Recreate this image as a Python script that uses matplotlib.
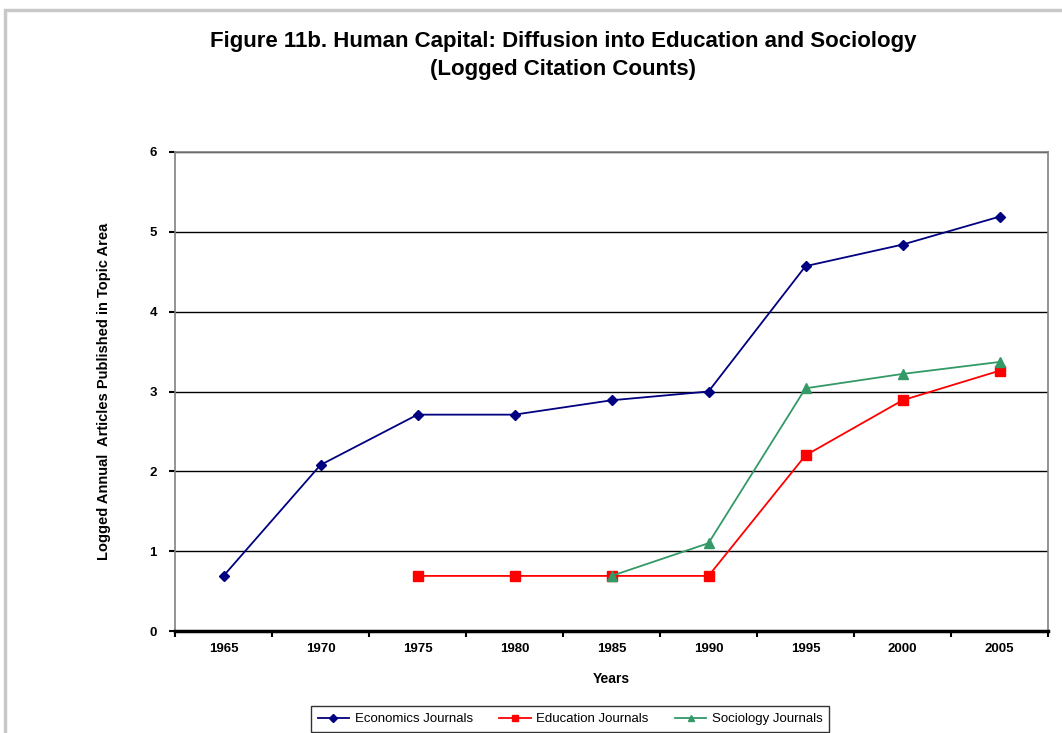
import matplotlib
matplotlib.use("Agg")
import matplotlib.pyplot as plt
from matplotlib.patches import Rectangle

plt.rcParams['font.family'] = ['Liberation Sans', 'DejaVu Sans']

years = ["1965", "1970", "1975", "1980", "1985", "1990", "1995", "2000", "2005"]
economics = [0.69, 2.08, 2.71, 2.71, 2.89, 3.00, 4.57, 4.84, 5.19]
education = [None, None, 0.69, 0.69, 0.69, 0.69, 2.20, 2.89, 3.26]
sociology = [None, None, None, None, 0.69, 1.10, 3.04, 3.22, 3.37]

W, H = 1062, 733
fig = plt.figure(figsize=(W / 100, H / 100), dpi=100)
ax = fig.add_axes([175 / W, 1 - 631 / H, (1048 - 175) / W, (631 - 152) / H])

# outer chart frame (gray)
fig.patches.append(Rectangle((5 / W, -0.05), 1.1, 1 - 10 / H + 0.05,
                             transform=fig.transFigure, fill=False,
                             edgecolor='#c8c8c8', linewidth=2.5))


def to_xy(vals):
    xs = [i for i, v in enumerate(vals) if v is not None]
    ys = [v for v in vals if v is not None]
    return xs, ys


x, y = to_xy(economics)
ax.plot(x, y, color='#000080', marker='D', markersize=5, linewidth=1.3,
        label='Economics Journals')
x, y = to_xy(education)
ax.plot(x, y, color='#ff0000', marker='s', markersize=7, linewidth=1.3,
        label='Education Journals')
x, y = to_xy(sociology)
ax.plot(x, y, color='#339966', marker='^', markersize=7, linewidth=1.3,
        label='Sociology Journals')

ax.set_xlim(-0.5, len(years) - 0.5)
ax.set_ylim(0, 6)
ax.set_yticks(range(7))
ax.set_xticks(range(len(years)))
ax.set_xticklabels(years)
ax.set_xticks([i - 0.5 for i in range(len(years) + 1)], minor=True)
ax.tick_params(axis='x', which='major', length=0, pad=9)
ax.tick_params(axis='x', which='minor', length=4, width=1.5, direction='out')
ax.tick_params(axis='y', length=4, width=1.5, direction='out', pad=9)
for lab in ax.get_xticklabels() + ax.get_yticklabels():
    lab.set_fontweight('bold')
    lab.set_fontsize(9.5)

ax.yaxis.grid(True, color='black', linewidth=1)
ax.set_axisbelow(True)
ax.spines['bottom'].set_linewidth(2.5)
ax.spines['bottom'].set_color('black')
for s in ('left', 'top', 'right'):
    ax.spines[s].set_color('#808080')
    ax.spines[s].set_linewidth(1.2)

ax.set_xlabel('Years', fontsize=10, fontweight='bold', labelpad=12)
ax.set_ylabel('Logged Annual  Articles Published in Topic Area', fontsize=10.5,
              fontweight='bold', labelpad=28)

fig.text(563 / W, 1 - 42 / H, 'Figure 11b. Human Capital: Diffusion into Education and Sociology',
         ha='center', va='center', fontsize=16, fontweight='heavy')
fig.text(563 / W, 1 - 70 / H, '(Logged Citation Counts)',
         ha='center', va='center', fontsize=16, fontweight='heavy')

leg = fig.legend(loc='center', bbox_to_anchor=(570 / W, 1 - 719 / H), ncol=3,
                 fontsize=9.5, frameon=True, fancybox=False, edgecolor='black',
                 handlelength=2.4, handletextpad=0.4, columnspacing=2.0,
                 borderpad=0.5, borderaxespad=0)
leg.get_frame().set_linewidth(1)
for h in leg.legend_handles:
    h.set_markersize(4)

fig.savefig('out.png', dpi=100)
